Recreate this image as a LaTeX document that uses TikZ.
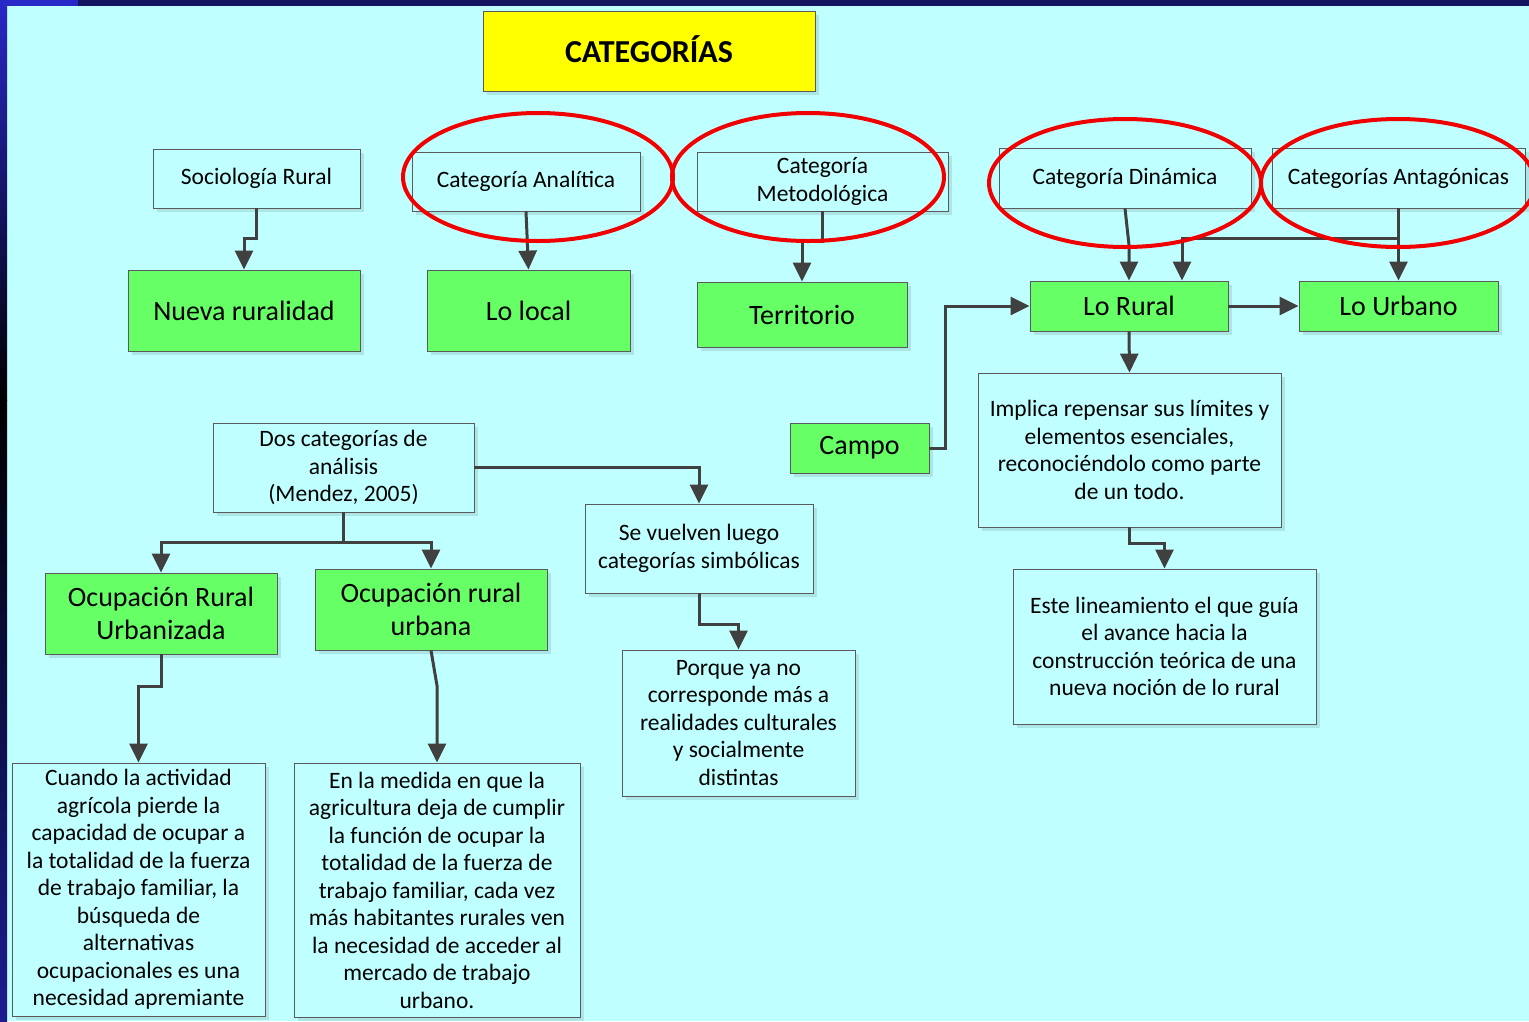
\documentclass[tikz,border=0pt]{standalone}
\usepackage{fontspec}
\setmainfont{Carlito}
\usetikzlibrary{arrows.meta,shadows,calc}
\definecolor{bgc}{HTML}{C0FFFF}
\definecolor{greenc}{HTML}{66FF66}
\definecolor{linec}{HTML}{404040}
\definecolor{borderc}{HTML}{5A5A5A}
\definecolor{redc}{HTML}{F00000}
\definecolor{yellc}{HTML}{FFFF00}
\definecolor{blueA}{HTML}{2828C8}
\definecolor{blueB}{HTML}{141460}
\definecolor{blueC}{HTML}{1C1C90}
\begin{document}
\begin{tikzpicture}[x=1pt,y=-1pt,
  shad/.style={drop shadow={shadow xshift=4pt,shadow yshift=-4pt,fill=black,opacity=0.10}},
  wbox/.style={draw=borderc,line width=0.8pt,fill=bgc,shad,align=center,inner sep=0pt,
     font=\fontsize{23.5}{27.5}\selectfont},
  gbox/.style={draw=borderc,line width=0.8pt,fill=greenc,shad,align=center,inner sep=0pt,
     font=\fontsize{28}{33}\selectfont},
  conn/.style={draw=linec,line width=3pt,-{Triangle[width=18pt,length=19pt]}},
  plain/.style={draw=linec,line width=3pt},
  redell/.style={draw=redc,line width=4pt}]
\useasboundingbox (0,0) rectangle (1529,1021);
\clip (0,0) rectangle (1529,1021);
% background
\fill[bgc] (0,0) rectangle (1529,1021);
\fill[blueB] (0,0) rectangle (1529,6);
\fill[blueA] (0,0) rectangle (78,6);
\shade[top color=blueA,bottom color=black] (0,0) rectangle (7,400);
\shade[top color=black,bottom color=blueC] (0,400) rectangle (7,1021);
% nodes
\node[draw=borderc,line width=0.8pt,fill=yellc,shad,minimum width=332pt,minimum height=80pt,
  font=\fontsize{32}{34}\selectfont\bfseries] (cat) at (649,51) {\raisebox{3pt}{CATEGORÍAS}};
\node[wbox,minimum width=207pt,minimum height=59pt] (soc) at (256.5,178.5) {Sociología Rural};
\node[gbox,minimum width=232pt,minimum height=81pt] (nueva) at (244,310.5) {Nueva ruralidad};
\node[wbox,minimum width=228pt,minimum height=59pt] (ana) at (526,181.5) {Categoría Analítica};
\node[gbox,minimum width=203pt,minimum height=81pt] (local) at (528.5,310.5) {Lo local};
\node[wbox,minimum width=251pt,minimum height=59pt] (met) at (822.5,181.5) {Categoría\\Metodológica};
\node[gbox,minimum width=210pt,minimum height=65pt] (terr) at (802,314.5) {Territorio};
\node[wbox,minimum width=252pt,minimum height=60pt] (din) at (1125,178) {Categoría Dinámica};
\node[wbox,minimum width=253pt,minimum height=60pt] (ant) at (1398.5,178) {Categorías Antagónicas};
\node[gbox,minimum width=198pt,minimum height=50pt] (lorural) at (1129,306) {Lo Rural};
\node[gbox,minimum width=199pt,minimum height=50pt] (urb) at (1398.5,306) {Lo Urbano};
\node[gbox,minimum width=139pt,minimum height=50pt] (campo) at (859.5,448) {Campo};
\node[wbox,minimum width=303pt,minimum height=154pt] (impl) at (1129.5,450)
  {Implica repensar sus límites y\\elementos esenciales,\\reconociéndolo como parte\\de un todo.};
\node[wbox,minimum width=303pt,minimum height=155pt] (este) at (1164.5,646.5)
  {Este lineamiento el que guía\\el avance hacia la\\construcción teórica de una\\nueva noción de lo rural};
\node[wbox,minimum width=261pt,minimum height=89pt] (dos) at (343.5,467.5)
  {Dos categorías de\\análisis\\(Mendez, 2005)};
\node[wbox,minimum width=228pt,minimum height=89pt] (se) at (699,548.5)
  {Se vuelven luego\\categorías simbólicas};
\node[wbox,minimum width=233pt,minimum height=146pt] (porque) at (738.5,723)
  {Porque ya no\\corresponde más a\\realidades culturales\\y socialmente\\distintas};
\node[gbox,minimum width=232pt,minimum height=81pt] (oru) at (161,613.5) {Ocupación Rural\\Urbanizada};
\node[gbox,minimum width=232pt,minimum height=81pt] (orurb) at (431,609.5) {Ocupación rural\\urbana};
\node[wbox,minimum width=253pt,minimum height=253pt] (cuando) at (138.5,889.5)
  {Cuando la actividad\\agrícola pierde la\\capacidad de ocupar a\\la totalidad de la fuerza\\de trabajo familiar, la\\búsqueda de\\alternativas\\ocupacionales es una\\necesidad apremiante};
\node[wbox,minimum width=286pt,minimum height=254pt] (medida) at (437,890)
  {En la medida en que la\\agricultura deja de cumplir\\la función de ocupar la\\totalidad de la fuerza de\\trabajo familiar, cada vez\\más habitantes rurales ven\\la necesidad de acceder al\\mercado de trabajo\\urbano.};
% connectors
\draw[conn] (soc.south) -- ++(0,30) -| (nueva.north);
\draw[conn] (ana.south) -- (local.north);
\draw[conn] (met.south) -- ++(0,30) -| (terr.north);
\coordinate (dinb) at (1129,245);
\draw[conn] (din.south) -- (dinb) -- (lorural.north);
\draw[conn] (ant.south) -- (urb.north);
\coordinate (antj) at (1398.5,238);
\coordinate (lr2) at ($(lorural.north)+(53,0)$);
\draw[conn] (antj) -| (lr2);
\draw[conn] (lorural) -- (urb);
\draw[conn] (campo.east) -- ++(16,0) |- (lorural.west);
\draw[conn] (lorural.south) -- (impl.north);
\draw[conn] (impl.south) -- ++(0,16) -| (este.north);
\coordinate (dj) at ($(dos.south)+(0,30)$);
\draw[plain] (dos.south) -- (dj);
\draw[conn] (dj) -| (oru.north);
\draw[conn] (dj) -| (orurb.north);
\draw[conn] (dos.east) -| (se.north);
\draw[conn] (se.south) -- ++(0,31) -| (porque.north);
\draw[conn] (oru.south) -- ++(0,32) -| (cuando.north);
\coordinate (mb) at ($(medida.north)+(0,-77)$);
\draw[conn] (orurb.south) -- (mb) -- (medida.north);
% red ellipses
\draw[redell] (538,177) ellipse [x radius=135, y radius=64];
\draw[redell] (808,177) ellipse [x radius=136, y radius=64];
\draw[redell] (1125,183) ellipse [x radius=136, y radius=64];
\draw[redell] (1398,183) ellipse [x radius=137, y radius=64];
\end{tikzpicture}
\end{document}
